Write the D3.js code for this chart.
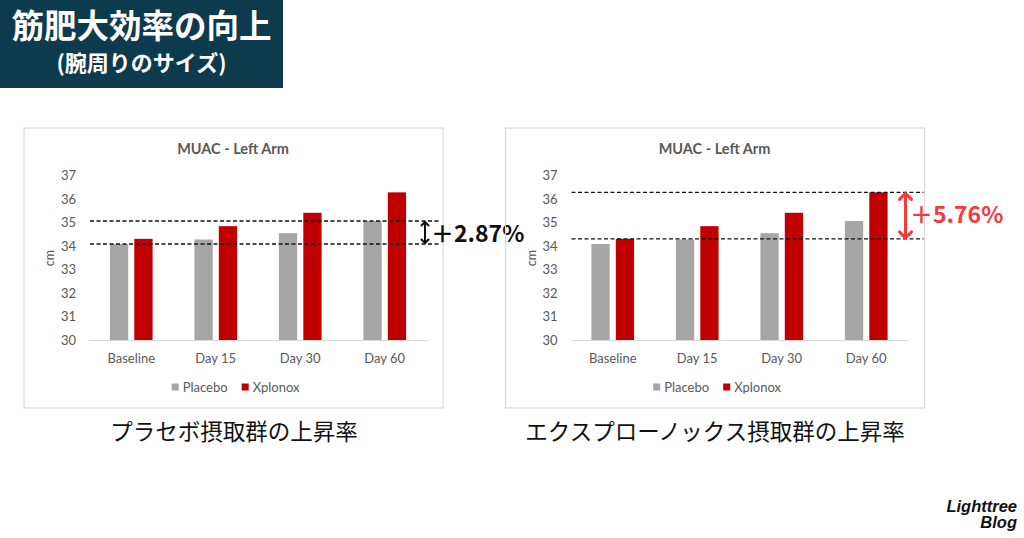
<!DOCTYPE html>
<html>
<head>
<meta charset="utf-8">
<script src="https://cdn.jsdelivr.net/npm/d3@7"></script>
<style>
  html, body { margin: 0; padding: 0; background: #ffffff; }
  svg { display: block; }
</style>
</head>
<body>
<svg id="chart" width="1024" height="538"></svg>
<script>
// ---- data ----
const categories = ["Baseline", "Day 15", "Day 30", "Day 60"];
const seriesNames = ["Placebo", "Xplonox"];
const placebo = [34.09, 34.28, 34.55, 35.07];
const xplonox = [34.31, 34.85, 35.42, 36.29];
const yTicks = [30, 31, 32, 33, 34, 35, 36, 37];
const chartTitle = "MUAC - Left Arm";
const yAxisLabel = "cm";
const mainTitle = "筋肥大効率の向上";
const subTitle = "(腕周りのサイズ)";
const captions = ["プラセボ摂取群の上昇率", "エクスプローノックス摂取群の上昇率"];
const annotationLabels = ["＋2.87%", "＋5.76%"];
const brandLines = ["Lighttree", "Blog"];

const svg = d3.select("#chart");
const colors = { Placebo: "#a6a6a6", Xplonox: "#c00000" };
const textGray = "#595959";
const latin = "Lato, 'Open Sans', 'Liberation Sans', sans-serif";
const cjk = "'Noto Sans CJK JP', 'Noto Sans', sans-serif";

// ---- title box ----
svg.append("rect").attr("x", 0).attr("y", 0).attr("width", 283).attr("height", 88).attr("fill", "#0e3a4e");
svg.append("text").attr("x", 141.5).attr("y", 27).attr("dy", "0.35em")
  .attr("text-anchor", "middle").attr("fill", "#ffffff")
  .style("font-family", cjk).style("font-weight", 700).style("font-size", "32.5px")
  .text(mainTitle);
svg.append("text").attr("x", 141.5).attr("y", 63).attr("dy", "0.35em")
  .attr("text-anchor", "middle").attr("fill", "#ffffff")
  .style("font-family", cjk).style("font-weight", 700).style("font-size", "22px")
  .text(subTitle);

const annLayer = [];

// ---- chart drawing ----
function drawChart(ox, refSeries, refColor, opt, labelIdx, labelColor, lineEnd) {
  const g = svg.append("g").attr("transform", `translate(${ox},0)`);
  // box
  g.append("rect").attr("x", 24).attr("y", 128).attr("width", 419).attr("height", 280)
    .attr("fill", "none").attr("stroke", "#d9d9d9").attr("stroke-width", 1.2);

  const x0 = d3.scaleBand().domain(categories).range([89, 427]).paddingInner(0.495).paddingOuter(0.2475);
  const x1 = d3.scaleBand().domain(seriesNames).range([0, x0.bandwidth()]).paddingInner(0.25).paddingOuter(0);
  const y = d3.scaleLinear().domain([30, 37]).range([340, 175.7]);

  // title
  g.append("text").attr("x", 233).attr("y", 149).attr("dy", "0.35em").attr("text-anchor", "middle")
    .attr("fill", textGray).style("font-family", latin).style("font-weight", 700).style("font-size", "14.5px")
    .text(chartTitle);

  // y axis
  const yAxis = d3.axisLeft(y).tickValues(yTicks).tickSize(0).tickPadding(0).tickFormat(d3.format("d"));
  const ya = g.append("g").attr("transform", "translate(76,0)").call(yAxis);
  ya.select(".domain").remove();
  ya.selectAll("text").attr("fill", textGray).style("font-family", latin).style("font-size", "13px");

  g.append("text").attr("transform", "translate(50,258) rotate(-90)").attr("text-anchor", "middle")
    .attr("dy", "0.35em").attr("fill", textGray).style("font-family", latin).style("font-size", "12.5px")
    .text(yAxisLabel);

  // bars
  const data = categories.map((c, i) => ({ c, vals: [placebo[i], xplonox[i]] }));
  const grp = g.selectAll(".grp").data(data).enter().append("g")
    .attr("transform", d => `translate(${x0(d.c)},0)`);
  grp.selectAll("rect").data(d => d.vals.map((v, j) => ({ s: seriesNames[j], v })))
    .enter().append("rect")
    .attr("x", d => x1(d.s)).attr("width", x1.bandwidth())
    .attr("y", d => y(d.v)).attr("height", d => y(30) - y(d.v))
    .attr("fill", d => colors[d.s]);

  // x axis
  const xAxis = d3.axisBottom(x0).tickSize(0).tickPadding(0);
  const xa = g.append("g").attr("transform", "translate(0,340)").call(xAxis);
  xa.select(".domain").attr("stroke", "#d9d9d9").attr("stroke-width", 1);
  xa.selectAll("text").attr("y", 18).attr("dy", "0.35em").attr("fill", textGray)
    .style("font-family", latin).style("font-size", "13px");

  // legend
  const legX = [171.7, 241.7];
  seriesNames.forEach((s, i) => {
    g.append("rect").attr("x", legX[i]).attr("y", 383.5).attr("width", 7).attr("height", 7).attr("fill", colors[s]);
    g.append("text").attr("x", legX[i] + 11).attr("y", 387).attr("dy", "0.35em").attr("fill", textGray)
      .style("font-family", latin).style("font-size", "13px").text(s);
  });

  // dashed reference lines
  const refVals = [refSeries[0], refSeries[3]];
  refVals.forEach(v => {
    g.append("line").attr("x1", x0.range()[0] + 1).attr("x2", lineEnd)
      .attr("y1", y(v)).attr("y2", y(v))
      .attr("stroke", "#111").attr("stroke-width", 1.4).attr("stroke-dasharray", "4,2.5");
  });

  // arrow
  const ax = opt.x;
  const yTop = y(refVals[1]) + 1, yBot = y(refVals[0]) - 1;
  const ah = opt.head;
  g.append("line").attr("x1", ax).attr("x2", ax).attr("y1", yTop + 1).attr("y2", yBot - 1)
    .attr("stroke", refColor).attr("stroke-width", opt.sw);
  g.append("path").attr("d", `M${ax - ah},${yTop + ah} L${ax},${yTop} L${ax + ah},${yTop + ah}`)
    .attr("fill", "none").attr("stroke", refColor).attr("stroke-width", opt.sw).attr("stroke-linecap", "round");
  g.append("path").attr("d", `M${ax - ah},${yBot - ah} L${ax},${yBot} L${ax + ah},${yBot - ah}`)
    .attr("fill", "none").attr("stroke", refColor).attr("stroke-width", opt.sw).attr("stroke-linecap", "round");

  // annotation label
  g.append("text").attr("x", opt.tx).attr("y", opt.ty).attr("dy", "0.35em")
    .attr("fill", labelColor).style("font-family", cjk).style("font-weight", 700).style("font-size", "23px")
    .text(annotationLabels[labelIdx]);

  // caption
  g.append("text").attr("x", opt.cx).attr("y", 432).attr("dy", "0.35em").attr("text-anchor", "middle")
    .attr("fill", "#111").style("font-family", cjk).style("font-size", "22.5px")
    .text(captions[labelIdx]);
}

drawChart(0, placebo, "#111", { x: 425, head: 3.5, sw: 2, tx: 431, ty: 234, cx: 234 }, 0, "#111", 440);
drawChart(481.5, xplonox, "#f23b3b", { x: 424, head: 6, sw: 3, tx: 428.5, ty: 215, cx: 233.5 }, 1, "#f23b3b", 442);

// brand
svg.append("text").attr("x", 1017).attr("y", 511.5).attr("text-anchor", "end").attr("fill", "#111")
  .style("font-family", "'Liberation Sans', Arial, sans-serif").style("font-weight", 700).style("font-style", "italic")
  .style("font-size", "16.5px").text(brandLines[0]);
svg.append("text").attr("x", 1017).attr("y", 527.5).attr("text-anchor", "end").attr("fill", "#111")
  .style("font-family", "'Liberation Sans', Arial, sans-serif").style("font-weight", 700).style("font-style", "italic")
  .style("font-size", "16.5px").text(brandLines[1]);
</script>
</body>
</html>
